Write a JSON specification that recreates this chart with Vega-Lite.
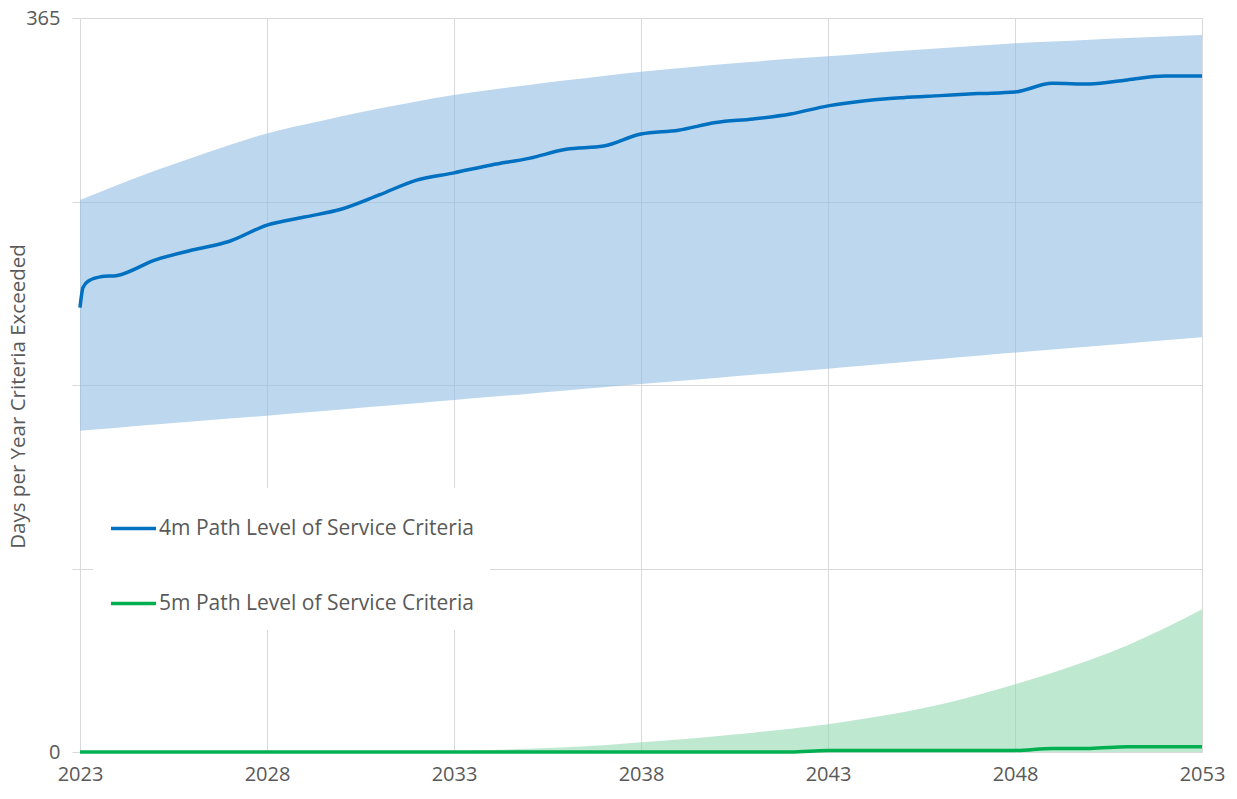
{
  "$schema": "https://vega.github.io/schema/vega-lite/v6.json",
  "width": 1122,
  "height": 734,
  "autosize": "none",
  "padding": {"left": 80, "top": 18, "right": 35, "bottom": 47},
  "background": "white",
  "config": {
    "view": {"stroke": null},
    "font": "Open Sans",
    "axis": {"labelFont": "Open Sans", "titleFont": "Open Sans", "labelColor": "#595959", "titleColor": "#595959", "gridColor": "#d9d9d9", "gridWidth": 1}
  },
  "datasets": {
    "bands": [
      {"year": 2023, "lo4": 159.8, "hi4": 274.5, "hi5": 0},
      {"year": 2024, "lo4": 161.3, "hi4": 282.0, "hi5": 0},
      {"year": 2025, "lo4": 162.8, "hi4": 289.0, "hi5": 0},
      {"year": 2026, "lo4": 164.3, "hi4": 295.5, "hi5": 0},
      {"year": 2027, "lo4": 165.8, "hi4": 301.8, "hi5": 0},
      {"year": 2028, "lo4": 167.2, "hi4": 307.6, "hi5": 0},
      {"year": 2029, "lo4": 168.8, "hi4": 312.0, "hi5": 0},
      {"year": 2030, "lo4": 170.3, "hi4": 316.2, "hi5": 0},
      {"year": 2031, "lo4": 171.9, "hi4": 320.0, "hi5": 0},
      {"year": 2032, "lo4": 173.4, "hi4": 323.5, "hi5": 0},
      {"year": 2033, "lo4": 175.0, "hi4": 326.7, "hi5": 0.3},
      {"year": 2034, "lo4": 176.6, "hi4": 329.3, "hi5": 1.0},
      {"year": 2035, "lo4": 178.2, "hi4": 331.7, "hi5": 1.6},
      {"year": 2036, "lo4": 179.8, "hi4": 334.0, "hi5": 2.4},
      {"year": 2037, "lo4": 181.4, "hi4": 336.2, "hi5": 3.4},
      {"year": 2038, "lo4": 183.0, "hi4": 338.3, "hi5": 4.8},
      {"year": 2039, "lo4": 184.5, "hi4": 340.0, "hi5": 6.2},
      {"year": 2040, "lo4": 186.0, "hi4": 341.7, "hi5": 7.8},
      {"year": 2041, "lo4": 187.6, "hi4": 343.2, "hi5": 9.6},
      {"year": 2042, "lo4": 189.1, "hi4": 344.7, "hi5": 11.6},
      {"year": 2043, "lo4": 190.6, "hi4": 346.0, "hi5": 13.8},
      {"year": 2044, "lo4": 192.2, "hi4": 347.4, "hi5": 16.6},
      {"year": 2045, "lo4": 193.8, "hi4": 348.7, "hi5": 19.8},
      {"year": 2046, "lo4": 195.4, "hi4": 349.9, "hi5": 23.6},
      {"year": 2047, "lo4": 197.0, "hi4": 351.2, "hi5": 28.3},
      {"year": 2048, "lo4": 198.6, "hi4": 352.4, "hi5": 33.7},
      {"year": 2049, "lo4": 200.1, "hi4": 353.3, "hi5": 39.4},
      {"year": 2050, "lo4": 201.6, "hi4": 354.2, "hi5": 45.7},
      {"year": 2051, "lo4": 203.1, "hi4": 355.0, "hi5": 53.0},
      {"year": 2052, "lo4": 204.7, "hi4": 355.8, "hi5": 61.5},
      {"year": 2053, "lo4": 206.2, "hi4": 356.5, "hi5": 71.0}
    ],
    "lines": [
      {"year": 2023, "series": "4m Path Level of Service Criteria", "days": 221},
      {"year": 2023.08, "series": "4m Path Level of Service Criteria", "days": 231},
      {"year": 2023.25, "series": "4m Path Level of Service Criteria", "days": 234.5},
      {"year": 2023.55, "series": "4m Path Level of Service Criteria", "days": 236.3},
      {"year": 2024, "series": "4m Path Level of Service Criteria", "days": 237},
      {"year": 2025, "series": "4m Path Level of Service Criteria", "days": 244.6},
      {"year": 2026, "series": "4m Path Level of Service Criteria", "days": 249.6},
      {"year": 2027, "series": "4m Path Level of Service Criteria", "days": 254},
      {"year": 2028, "series": "4m Path Level of Service Criteria", "days": 262},
      {"year": 2029, "series": "4m Path Level of Service Criteria", "days": 266},
      {"year": 2030, "series": "4m Path Level of Service Criteria", "days": 270},
      {"year": 2031, "series": "4m Path Level of Service Criteria", "days": 277},
      {"year": 2032, "series": "4m Path Level of Service Criteria", "days": 284.4},
      {"year": 2033, "series": "4m Path Level of Service Criteria", "days": 288},
      {"year": 2034, "series": "4m Path Level of Service Criteria", "days": 291.9},
      {"year": 2035, "series": "4m Path Level of Service Criteria", "days": 295.2},
      {"year": 2036, "series": "4m Path Level of Service Criteria", "days": 299.7},
      {"year": 2037, "series": "4m Path Level of Service Criteria", "days": 301.3},
      {"year": 2038, "series": "4m Path Level of Service Criteria", "days": 307.3},
      {"year": 2039, "series": "4m Path Level of Service Criteria", "days": 309.2},
      {"year": 2040, "series": "4m Path Level of Service Criteria", "days": 313},
      {"year": 2041, "series": "4m Path Level of Service Criteria", "days": 314.8},
      {"year": 2042, "series": "4m Path Level of Service Criteria", "days": 317.3},
      {"year": 2043, "series": "4m Path Level of Service Criteria", "days": 321.3},
      {"year": 2044, "series": "4m Path Level of Service Criteria", "days": 323.9},
      {"year": 2045, "series": "4m Path Level of Service Criteria", "days": 325.4},
      {"year": 2046, "series": "4m Path Level of Service Criteria", "days": 326.4},
      {"year": 2047, "series": "4m Path Level of Service Criteria", "days": 327.4},
      {"year": 2048, "series": "4m Path Level of Service Criteria", "days": 328.2},
      {"year": 2049, "series": "4m Path Level of Service Criteria", "days": 332.5},
      {"year": 2050, "series": "4m Path Level of Service Criteria", "days": 332.2},
      {"year": 2051, "series": "4m Path Level of Service Criteria", "days": 334.2},
      {"year": 2052, "series": "4m Path Level of Service Criteria", "days": 336.2},
      {"year": 2053, "series": "4m Path Level of Service Criteria", "days": 336.2},
      {"year": 2023, "series": "5m Path Level of Service Criteria", "days": 0},
      {"year": 2028, "series": "5m Path Level of Service Criteria", "days": 0},
      {"year": 2033, "series": "5m Path Level of Service Criteria", "days": 0},
      {"year": 2038, "series": "5m Path Level of Service Criteria", "days": 0},
      {"year": 2042, "series": "5m Path Level of Service Criteria", "days": 0},
      {"year": 2043, "series": "5m Path Level of Service Criteria", "days": 0.8},
      {"year": 2044, "series": "5m Path Level of Service Criteria", "days": 0.8},
      {"year": 2045, "series": "5m Path Level of Service Criteria", "days": 0.8},
      {"year": 2046, "series": "5m Path Level of Service Criteria", "days": 0.8},
      {"year": 2047, "series": "5m Path Level of Service Criteria", "days": 0.8},
      {"year": 2048, "series": "5m Path Level of Service Criteria", "days": 0.8},
      {"year": 2049, "series": "5m Path Level of Service Criteria", "days": 1.8},
      {"year": 2050, "series": "5m Path Level of Service Criteria", "days": 1.8},
      {"year": 2051, "series": "5m Path Level of Service Criteria", "days": 2.6},
      {"year": 2052, "series": "5m Path Level of Service Criteria", "days": 2.6},
      {"year": 2053, "series": "5m Path Level of Service Criteria", "days": 2.6}
    ]
  },
  "layer": [
    {
      "data": {"name": "bands"},
      "mark": {"type": "area", "color": "#91bce3", "opacity": 0.6, "interpolate": "monotone"},
      "encoding": {
        "x": {
          "field": "year", "type": "quantitative",
          "scale": {"domain": [2023, 2053], "nice": false, "zero": false},
          "axis": {"title": null, "values": [2023, 2028, 2033, 2038, 2043, 2048, 2053], "format": "d", "ticks": false, "labelPadding": 12, "labelFontSize": 20, "domainColor": "#d9d9d9", "labelFlush": false}
        },
        "y": {
          "field": "lo4", "type": "quantitative",
          "scale": {"domain": [0, 365], "nice": false, "zero": true},
          "axis": {"title": "Days per Year Criteria Exceeded", "titleFontSize": 20.5, "titleFontWeight": "normal", "titleX": -62, "titleY": 378, "titleAngle": -90, "titleAlign": "center", "titleBaseline": "middle", "values": [0, 91.25, 182.5, 273.75, 365], "labelExpr": "datum.value == 0 || datum.value == 365 ? datum.label : ''", "labelFontSize": 20, "labelPadding": 12, "tickColor": "#d9d9d9", "tickSize": 8, "domain": false}
        },
        "y2": {"field": "hi4"}
      }
    },
    {
      "data": {"name": "bands"},
      "mark": {"type": "area", "color": "#93d9b1", "opacity": 0.6, "interpolate": "monotone"},
      "encoding": {
        "x": {"field": "year", "type": "quantitative"},
        "y": {"field": "hi5", "type": "quantitative"}
      }
    },
    {
      "data": {"name": "lines"},
      "mark": {"type": "line", "strokeWidth": 3.5, "interpolate": "monotone"},
      "encoding": {
        "x": {"field": "year", "type": "quantitative"},
        "y": {"field": "days", "type": "quantitative"},
        "color": {
          "field": "series", "type": "nominal",
          "scale": {"domain": ["4m Path Level of Service Criteria", "5m Path Level of Service Criteria"], "range": ["#0070c0", "#00b050"]},
          "legend": {"title": null, "orient": "none", "legendX": 13, "legendY": 470, "fillColor": "white", "padding": 16, "symbolType": "stroke", "symbolSize": 2025, "symbolStrokeWidth": 3.5, "labelFontSize": 21, "labelFont": "Open Sans", "labelColor": "#595959", "rowPadding": 40, "labelOffset": 1, "labelLimit": 500}
        }
      }
    }
  ]
}
